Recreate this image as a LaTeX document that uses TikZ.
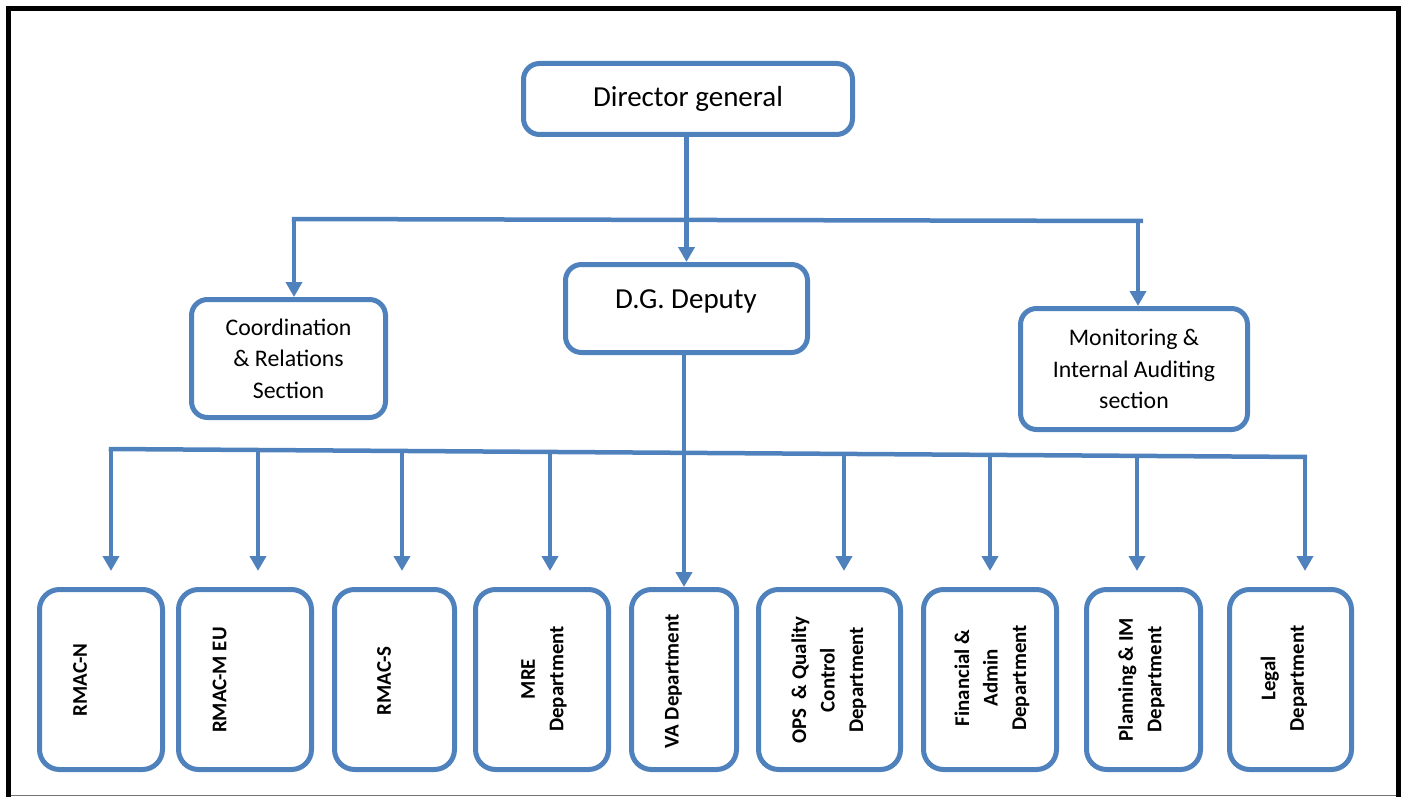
\documentclass[tikz,border=0pt]{standalone}
\usepackage{fontspec}
\setmainfont{Carlito}
\usetikzlibrary{arrows.meta}
\definecolor{boxblue}{HTML}{4F81BD}
\tikzset{
  box/.style={draw=boxblue, line width=5pt, rounded corners=16pt, fill=white, inner sep=0pt, align=center},
  topfont/.style={font=\fontsize{29}{35}\selectfont},
  secfont/.style={font=\fontsize{23.8}{31.5}\selectfont},
  bbox/.style={draw=boxblue, line width=5pt, rounded corners=20pt, minimum height=180pt, inner sep=0pt},
  btxt/.style={rotate=90, align=center, font=\bfseries\fontsize{20.9}{28.5}\selectfont, inner sep=0pt},
  link/.style={draw=boxblue, line width=4.5pt},
  arr/.style={link, -{Triangle[width=16pt,length=15pt]}},
  drop/.style={arr, shorten >=16pt},
}
\begin{document}
\begin{tikzpicture}[x=1pt,y=-1pt]
\useasboundingbox (0,0) rectangle (1406,797);
% frame
\draw[line width=5pt, black] (8.5,797) -- (8.5,8.5) -- (1398.5,8.5) -- (1398.5,797);
\draw[black!55, line width=1.5pt] (11,795.5) -- (1396,795.5);

% top level
\node[box, topfont, minimum width=329pt, minimum height=71pt] (dg) at (688,99) {Director general};
\node[box, minimum width=242pt, minimum height=88pt] (dgd) at (686.5,308.5) {};
\node[topfont, inner sep=0pt] (dgdt) at (686,301.5) {D.G. Deputy};
\node[box, secfont, minimum width=194pt, minimum height=118pt] (co) at (288.5,358.5) {Coordination\\\& Relations\\Section};
\node[box, secfont, minimum width=227pt, minimum height=121pt] (mo) at (1134,369) {Monitoring \&\\Internal Auditing\\section};

% bottom boxes
\node[bbox, minimum width=123pt] (n1) at (101,679.5) {};
\node[bbox, minimum width=133pt] (n2) at (245,679.5) {};
\node[bbox, minimum width=120pt] (n3) at (394.5,679.5) {};
\node[bbox, minimum width=133pt] (n4) at (542,679.5) {};
\node[bbox, minimum width=105pt] (va) at (684,679.5) {};
\node[bbox, minimum width=142pt] (n6) at (829.5,679.5) {};
\node[bbox, minimum width=133pt] (n7) at (990,679.5) {};
\node[bbox, minimum width=114pt] (n8) at (1143.5,679.5) {};
\node[bbox, minimum width=122pt] (n9) at (1290.5,679.5) {};

\node[btxt] (t1) at (80,680) {RMAC-N};
\node[btxt] (t2) at (219.5,680) {RMAC-M EU};
\node[btxt] (t3) at (384,681) {RMAC-S};
\node[btxt] (t4) at (544,679) {MRE\\Department};
\node[btxt] (t5) at (673.5,681.5) {VA Department};
\node[btxt] (t6) at (829,680) {OPS\ \ \& Quality\\Control\\Department};
\node[btxt] (t7) at (992,678) {Financial \&\\Admin\\Department};
\node[btxt] (t8) at (1141.5,679.5) {Planning \& IM\\Department};
\node[btxt] (t9) at (1284,678.5) {Legal\\Department};

% upper connectors
\coordinate (tl) at (294,219);
\coordinate (tr) at (1138,221);
\draw[link] ([xshift=-2.25pt]tl) -- ([xshift=5pt]tr);
\draw[arr] (tl) -- (tl |- co.north);
\draw[arr] (tr) -- (tr |- mo.north);
\draw[arr] ([xshift=-1.5pt]dg.south) -- ([xshift=-1.5pt]dg.south |- dgd.north);

% lower connectors
\draw[arr] (dgd.south -| va.north) -- (va.north);
\coordinate (bl) at (108.75,449);
\coordinate (br) at (1307,457);
\draw[link] (bl) -- (br);
\coordinate (d1) at (111,449);
\coordinate (d2) at (258,450);
\coordinate (d3) at (402,451);
\coordinate (d4) at (550,452);
\coordinate (d6) at (844,453.9);
\coordinate (d7) at (990,454.9);
\coordinate (d8) at (1137,455.9);
\coordinate (d9) at (1305,457);
\draw[drop] (d1) -- (d1 |- n1.north);
\draw[drop] (d2) -- (d2 |- n2.north);
\draw[drop] (d3) -- (d3 |- n3.north);
\draw[drop] (d4) -- (d4 |- n4.north);
\draw[drop] (d6) -- (d6 |- n6.north);
\draw[drop] (d7) -- (d7 |- n7.north);
\draw[drop] (d8) -- (d8 |- n8.north);
\draw[drop] (d9) -- (d9 |- n9.north);
\end{tikzpicture}
\end{document}
